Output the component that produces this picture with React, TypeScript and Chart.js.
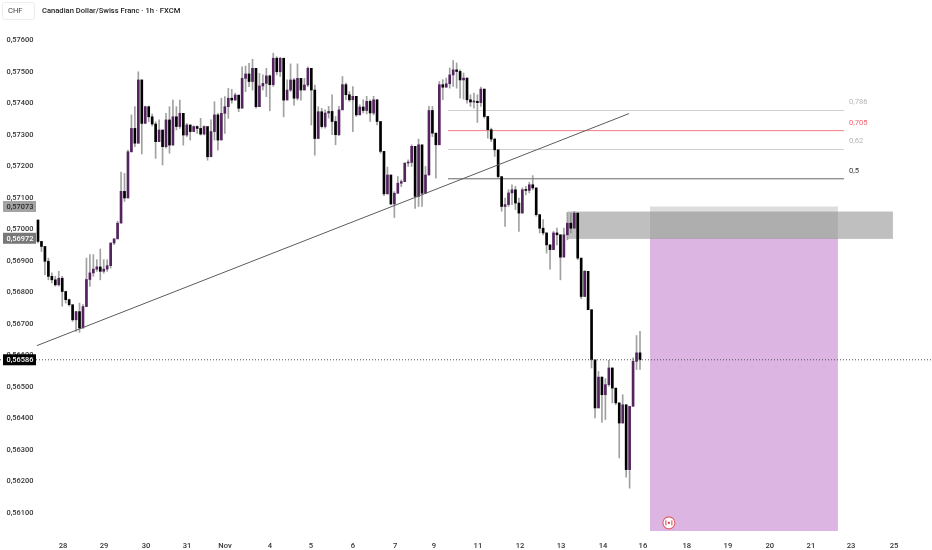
import React, { useEffect, useRef } from "react";
import { Chart, registerables } from "chart.js";

Chart.register(...registerables);

const FONT = "Roboto";
const firstOpen = 57030;
const closes = [
  56962,56946,56899,56851,56840,56824,56845,56803,56777,56761,56713,56739,56687,56755,56841,56862,56874,56881,56867,56874,
  56885,56957,56970,57020,57121,57100,57247,57321,57274,57475,57337,57390,57358,57335,57279,57316,57263,57348,57268,57358,
  57327,57369,57300,57332,57311,57327,57321,57303,57327,57231,57311,57364,57284,57369,57390,57417,57411,57427,57385,57480,
  57494,57470,57512,57390,57456,57464,57488,57460,57544,57501,57544,57411,57443,57475,57417,57480,57443,57459,57512,57443,
  57289,57374,57327,57370,57375,57343,57301,57380,57460,57428,57412,57423,57364,57389,57378,57407,57370,57412,57343,57248,
  57113,57173,57081,57115,57147,57152,57211,57213,57264,57105,57269,57115,57173,57378,57306,57269,57460,57452,57463,57491,
  57507,57502,57475,57481,57412,57405,57407,57403,57446,57359,57317,57287,57253,57168,57073,57079,57116,57126,57084,57052,
  57126,57124,57142,57132,57047,57004,56989,56951,56936,56989,56983,56912,56983,57020,57004,57052,56909,56787,56867,56745,
  56586,56433,56531,56475,56507,56560,56496,56449,56385,56443,56237,56438,56581,56608,56586,
];
const highs = [
  57030,56962,56936,56909,56862,56851,56867,56851,56793,56779,56756,56740,56766,56761,56909,56920,56920,56904,56938,56904,
  56904,56957,56970,57026,57182,57178,57252,57364,57390,57501,57475,57392,57392,57367,57342,57348,57311,57369,57390,57411,
  57390,57411,57364,57337,57332,57329,57329,57353,57329,57305,57348,57406,57369,57417,57422,57448,57445,57433,57422,57517,
  57519,57528,57541,57512,57496,57491,57512,57491,57560,57549,57547,57483,57475,57526,57480,57526,57459,57480,57517,57470,
  57459,57390,57385,57380,57391,57428,57359,57391,57486,57465,57438,57454,57423,57396,57412,57423,57412,57423,57412,57343,
  57248,57198,57173,57120,57168,57158,57211,57221,57269,57253,57287,57173,57200,57391,57391,57306,57470,57476,57481,57513,
  57537,57529,57507,57497,57481,57428,57433,57428,57452,57446,57359,57322,57290,57248,57165,57100,57126,57142,57137,57100,
  57132,57137,57150,57171,57132,57047,57031,56989,56951,56994,57004,56983,57004,57054,57052,57057,57052,56909,56870,56867,
  56745,56512,56549,56531,56526,56584,56560,56480,56449,56475,56443,56438,56592,56663,56676,
];
const lows = [
  56957,56930,56856,56840,56830,56820,56820,56756,56766,56756,56708,56676,56673,56687,56755,56819,56851,56867,56840,56861,
  56867,56877,56952,56973,57084,57089,57100,57245,57263,57274,57240,57337,57342,57329,57226,57279,57205,57258,57242,57268,
  57316,57321,57268,57295,57284,57311,57305,57300,57300,57220,57252,57284,57252,57305,57305,57353,57401,57411,57374,57401,
  57438,57454,57443,57385,57390,57443,57422,57377,57454,57491,57486,57358,57433,57438,57395,57411,57411,57443,57454,57332,
  57236,57289,57322,57322,57354,57301,57269,57298,57380,57412,57407,57311,57359,57364,57370,57367,57343,57364,57332,57242,
  57107,57113,57078,57038,57115,57136,57152,57200,57200,57067,57073,57073,57115,57173,57295,57163,57269,57412,57452,57449,
  57454,57449,57417,57414,57401,57391,57385,57340,57391,57354,57290,57279,57232,57163,57058,57010,57073,57079,57063,56994,
  57052,57110,57116,57126,57042,56989,56983,56925,56874,56936,56951,56840,56941,56967,56989,57015,56904,56780,56787,56745,
  56560,56401,56433,56387,56396,56502,56449,56443,56274,56385,56213,56178,56523,56555,56555,
];
const yTickValues = [57600,57500,57400,57300,57200,57100,57000,56900,56800,56700,56600,56500,56400,56300,56200,56100];
const xTickHours = [14.5,38.2,62.4,86.1,108.1,134.1,157.8,182,206.4,228.9,254.3,278.6,302.3,326.6,349.7,375,398.8,423,446.8,470,494.8];
const xTickLabels = ["28","29","30","31","Nov","4","5","6","7","9","11","12","13","14","16","18","19","20","21","23","25"];

const HOURS_PER_CANDLE = 2;
const fibStart = 237;
const fibEnd = 465.9;
const fibLevels = [57378, 57314, 57254, 57161];
const fibNames = ["0,786", "0,705", "0,62", "0,5"];
const fibColors = ["#cfcfcf", "#f77c86", "#cfcfcf", "#666666"];
const fibTextColors = ["#b5b5b5", "#f2636f", "#b5b5b5", "#333333"];
const trendX = [-0.6, 341.6];
const trendY = [56631, 57368];
const lastPrice = 56586;
const priceTags = [57073, 56972, 56586];
const tagFills = ["#a3a3a3", "#787878", "#000000"];
const tagInk = ["#2a2a2a", "#ffffff", "#ffffff"];
const projX = [353.8, 462.4];
const targetY = [56042, 56972];
const stopY = [56972, 57073];
const zoneX = [306.4, 494.2];
const zoneY = [56970, 57057];
const eventX = 364.7;
const eventY = 56068;

const xMin = -21.97;
const xMax = 516.8;
const yMin = 56042;
const yMax = 57729;

const opens = closes.map((_, i) => (i === 0 ? firstOpen : closes[i - 1]));
const hours = closes.map((_, i) => i * HOURS_PER_CANDLE);

const lineSet = (xs: number[], ys: number[], color: string, extra: object = {}) => ({
  type: "line" as const,
  data: xs.map((x, i) => ({ x, y: ys[i] })),
  borderColor: color,
  borderWidth: 1,
  pointRadius: 0,
  order: 1,
  ...extra,
});

const overlay = {
  id: "overlay",
  beforeDatasetsDraw(chart: any) {
    const { ctx, scales } = chart;
    const { x, y } = scales;
    const box = (xs: number[], ys: number[], fill: string) => {
      ctx.fillStyle = fill;
      const px = x.getPixelForValue(xs[0]);
      const py = y.getPixelForValue(ys[1]);
      ctx.fillRect(px, py, x.getPixelForValue(xs[1]) - px, y.getPixelForValue(ys[0]) - py);
    };
    ctx.save();
    box(projX, targetY, "rgb(221,181,227)");
    box(projX, stopY, "rgba(128,128,128,0.27)");
    box(zoneX, zoneY, "rgba(128,128,128,0.5)");
    ctx.restore();
  },
  afterDraw(chart: any) {
    const { ctx, scales } = chart;
    const { x, y } = scales;
    ctx.save();
    ctx.textBaseline = "middle";
    // Fib level captions
    ctx.font = `7.6px ${FONT}`;
    ctx.textAlign = "left";
    fibLevels.forEach((lv, i) => {
      ctx.fillStyle = fibTextColors[i];
      ctx.fillText(fibNames[i], x.getPixelForValue(468.8), y.getPixelForValue(lv) - 8);
    });
    // Price tags on the axis
    ctx.font = `500 7.4px ${FONT}`;
    priceTags.forEach((p, i) => {
      const py = y.getPixelForValue(p);
      ctx.fillStyle = tagFills[i];
      ctx.fillRect(3, py - 5.5, 33, 11);
      ctx.fillStyle = tagInk[i];
      ctx.fillText("0," + p, 6.5, py + 0.5);
    });
    // Symbol badge and title
    ctx.fillStyle = "#ffffff";
    ctx.strokeStyle = "#ececec";
    ctx.beginPath();
    ctx.roundRect(2.5, 2.5, 32, 17, 2);
    ctx.fill();
    ctx.stroke();
    ctx.fillStyle = "#444444";
    ctx.font = `7.6px ${FONT}`;
    ctx.fillText("CHF", 8, 11.5);
    ctx.fillStyle = "#222222";
    ctx.font = `500 7.6px ${FONT}`;
    ctx.fillText("Canadian Dollar/Swiss Franc · 1h · FXCM", 42, 11);
    // Event marker
    const ex = x.getPixelForValue(eventX);
    const ey = y.getPixelForValue(eventY);
    ctx.beginPath();
    ctx.arc(ex, ey, 6, 0, Math.PI * 2);
    ctx.fillStyle = "#ffffff";
    ctx.fill();
    ctx.lineWidth = 1.2;
    ctx.strokeStyle = "#e0636e";
    ctx.stroke();
    ctx.fillStyle = "#d9404e";
    ctx.fillRect(ex - 3.5, ey - 2.5, 1, 5);
    ctx.fillRect(ex + 2.5, ey - 2.5, 1, 5);
    ctx.fillRect(ex - 1, ey - 1, 2, 2);
    ctx.restore();
  },
};

export default function App() {
  const ref = useRef<HTMLCanvasElement | null>(null);
  useEffect(() => {
    if (!ref.current) return;
    const chart = new Chart(ref.current, {
      type: "bar",
      data: {
        datasets: [
          ...fibLevels.map((lv, i) => lineSet([fibStart, fibEnd], [lv, lv], fibColors[i], { order: 5 })),
          lineSet([xMin, xMax], [lastPrice, lastPrice], "#555555", { borderDash: [1, 2], order: 1 }),
          {
            type: "bar" as const,
            data: hours.map((h, i) => ({ x: h, y: [lows[i], highs[i]] })),
            backgroundColor: "rgba(130,130,130,0.75)",
            barThickness: 1,
            grouped: false,
            order: 4,
          },
          {
            type: "bar" as const,
            data: hours.map((h, i) => ({ x: h, y: [opens[i], closes[i]] })),
            backgroundColor: hours.map((_, i) => (closes[i] >= opens[i] ? "#54245f" : "#000000")),
            barThickness: 2,
            minBarLength: 1,
            grouped: false,
            order: 3,
          },
          lineSet(trendX, trendY, "#5c5c5c", { order: 2 }),
        ] as any,
      },
      plugins: [overlay],
      options: {
        responsive: false,
        animation: false,
        layout: { padding: 0 },
        plugins: { legend: { display: false }, tooltip: { enabled: false } },
        scales: {
          x: {
            type: "linear",
            min: xMin,
            max: xMax,
            offset: false,
            grid: { display: false },
            border: { display: false },
            afterBuildTicks: (s: any) => {
              s.ticks = xTickHours.map((value) => ({ value }));
            },
            afterFit: (s: any) => {
              s.height = 19;
            },
            ticks: {
              autoSkip: false,
              maxRotation: 0,
              padding: 3,
              color: "#333333",
              font: { family: FONT, size: 7.6, weight: 500 },
              callback: (_: any, i: number) => xTickLabels[i],
            },
          },
          y: {
            type: "linear",
            min: yMin,
            max: yMax,
            grid: { display: false },
            border: { display: false },
            afterBuildTicks: (s: any) => {
              s.ticks = yTickValues.map((value) => ({ value }));
            },
            afterFit: (s: any) => {
              s.width = 0;
              s.paddingTop = 0;
              s.paddingBottom = 0;
            },
            ticks: {
              mirror: true,
              padding: 6.5,
              autoSkip: false,
              color: "#333333",
              font: { family: FONT, size: 7.4, weight: 500 },
              callback: (v: any) => "0," + v,
            },
          },
        },
      },
    } as any);
    return () => chart.destroy();
  }, []);
  return (
    <div style={{ position: "absolute", left: 0, top: 0, width: 932, height: 550, background: "#fff" }}>
      <canvas ref={ref} width={932} height={550} style={{ display: "block" }} />
    </div>
  );
}
